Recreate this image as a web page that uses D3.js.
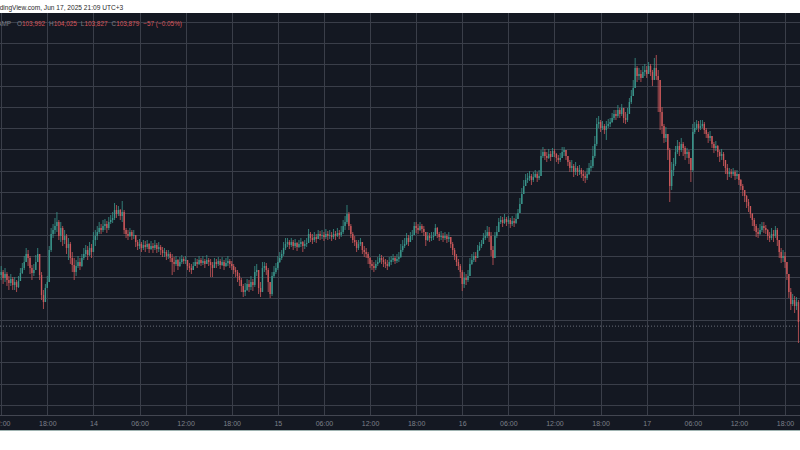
<!DOCTYPE html>
<html><head><meta charset="utf-8">
<script src="https://cdn.jsdelivr.net/npm/d3@7"></script>
<style>html,body{margin:0;padding:0;background:#fff;overflow:hidden}svg{display:block}</style>
</head><body>
<svg id="c" width="800" height="450"></svg>
<script>
// ---- data (BTCUSD 15m, times shown in UTC+3) ----
const startTime = "2025-06-13T12:00:00Z";
const intervalMinutes = 15;
const firstOpen = 104840;
const closes = [
104896,104784,104859,104746,104690,104765,104652,104708,104614,104727,
104878,104972,105084,105235,105160,104972,104878,104934,105084,105235,
104840,104464,104332,104596,104708,105310,105611,105686,105761,105836,
105573,105724,105498,105573,105348,105423,105160,105028,104896,105009,
105084,105009,105160,105235,105310,105216,105348,105272,105498,105573,
105648,105724,105686,105761,105799,105724,105836,105874,105912,106062,
105987,106062,105949,106024,105686,105611,105573,105648,105573,105592,
105460,105385,105423,105348,105404,105366,105423,105329,105385,105348,
105404,105329,105366,105310,105254,105272,105197,105235,105160,105084,
105047,105122,105009,105084,105141,105103,105122,105009,104972,104934,
105009,105084,105047,105122,105066,105103,105047,105122,105084,105028,
104972,105084,105047,105103,105028,105084,105009,105066,105103,105047,
105009,104934,104896,104821,104746,104633,104520,104558,104671,104614,
104708,104652,104896,104934,104596,104520,104972,105009,104934,104708,
104483,104821,104896,104972,105084,105160,105235,105348,105423,105460,
105404,105460,105385,105442,105366,105423,105460,105385,105423,105442,
105611,105536,105498,105554,105517,105611,105573,105592,105554,105611,
105573,105592,105554,105611,105573,105630,105592,105648,105761,105836,
105987,105761,105611,105498,105460,105348,105423,105460,105310,105272,
105235,105160,105047,105009,104972,105047,105084,105160,105122,105084,
105047,105009,105084,105122,105160,105103,105141,105178,105310,105385,
105423,105536,105460,105573,105592,105761,105724,105686,105761,105705,
105648,105498,105573,105536,105554,105573,105724,105611,105554,105573,
105536,105573,105517,105554,105423,105310,105197,105084,105009,104896,
104671,104784,104746,104821,105047,105122,105197,105160,105310,105385,
105423,105536,105573,105648,105573,105310,105160,105573,105648,105836,
105874,105818,105893,105836,105874,105799,105855,105818,105893,106006,
106175,106363,106513,106626,106664,106701,106626,106682,106739,106664,
106701,107077,107152,107077,107040,107115,107058,107171,107115,107040,
107002,107040,107152,107190,107077,106964,106852,106889,106776,106852,
106776,106814,106739,106701,106664,106739,106852,106889,107077,107303,
107679,107716,107604,107641,107566,107641,107679,107716,107792,107867,
107829,107942,107867,107980,107792,107754,107867,108092,108205,108356,
108732,108581,108619,108544,108656,108694,108619,108769,108656,108506,
108732,108581,108506,107904,107641,107416,107491,107190,106513,106814,
106927,107152,107265,107190,107303,107228,107115,107152,107040,106814,
107528,107604,107679,107604,107641,107679,107566,107491,107416,107453,
107303,107228,107265,107152,107077,107115,107002,106852,106739,106776,
106739,106776,106701,106739,106626,106513,106438,106325,106212,106137,
105987,105874,105761,105648,105611,105686,105761,105724,105686,105573,
105536,105611,105573,105686,105498,105272,105160,105197,105084,104859,
104520,104295,104370,104257,104332,103956];
const highs = [
105009,104934,104972,104896,104821,104859,104802,104802,104746,104821,
104972,105066,105197,105348,105310,105197,105028,105047,105216,105348,
105235,104896,104558,104671,104821,105385,105724,105799,105912,106024,
105874,105836,105761,105686,105611,105536,105460,105272,105160,105122,
105197,105160,105235,105348,105404,105385,105460,105423,105648,105686,
105761,105836,105799,105874,105893,105855,105930,105968,106024,106194,
106156,106137,106081,106231,106062,105724,105686,105724,105686,105686,
105573,105498,105517,105460,105498,105479,105498,105442,105479,105442,
105498,105442,105460,105404,105366,105348,105310,105310,105272,105235,
105178,105197,105141,105178,105216,105178,105197,105122,105066,105047,
105084,105160,105141,105197,105160,105197,105141,105216,105160,105141,
105084,105160,105141,105178,105141,105178,105122,105160,105197,105141,
105103,105047,104990,104934,104878,104784,104671,104690,104765,104746,
104821,104765,105009,105047,104934,104708,105084,105084,105066,104972,
104671,104896,105009,105066,105197,105272,105310,105460,105536,105536,
105498,105536,105498,105517,105460,105498,105536,105479,105498,105536,
105705,105648,105611,105648,105611,105686,105667,105686,105648,105705,
105667,105686,105648,105705,105667,105724,105686,105761,105874,105949,
106156,106024,105799,105648,105573,105498,105498,105536,105460,105385,
105348,105272,105178,105122,105084,105122,105178,105235,105216,105178,
105141,105122,105178,105197,105235,105197,105235,105272,105423,105498,
105536,105630,105592,105648,105686,105836,105836,105799,105836,105799,
105761,105648,105648,105630,105648,105648,105799,105742,105648,105667,
105630,105648,105611,105648,105554,105460,105348,105235,105141,105047,
104934,104896,104859,104934,105160,105235,105272,105272,105404,105460,
105498,105630,105686,105761,105742,105648,105385,105648,105761,105912,
105949,105930,105987,105930,105949,105912,105949,105912,105987,106081,
106288,106476,106626,106739,106758,106795,106739,106776,106814,106776,
106814,107190,107246,107209,107152,107209,107171,107228,107209,107134,
107096,107134,107246,107246,107190,107077,107002,107002,106927,106964,
106889,106908,106852,106814,106776,106852,106946,107002,107265,107453,
107792,107829,107754,107735,107679,107735,107773,107792,107886,107942,
107942,108036,107980,108055,107942,107904,107980,108168,108318,108506,
108920,108769,108732,108694,108769,108807,108769,108844,108807,108694,
108920,108976,108694,108130,107998,107679,107622,107491,107228,106964,
107040,107265,107378,107340,107416,107340,107265,107228,107190,107040,
107679,107716,107754,107735,107754,107754,107716,107604,107528,107547,
107453,107340,107359,107284,107190,107209,107152,107002,106927,106852,
106833,106852,106814,106814,106739,106645,106551,106438,106344,106269,
106137,106006,105912,105799,105724,105799,105836,105836,105780,105705,
105648,105724,105686,105761,105724,105460,105348,105310,105272,105084,
104821,104596,104483,104445,104426,104370];
const lows = [
104746,104671,104708,104633,104558,104633,104558,104558,104520,104596,
104784,104859,104934,105084,105009,104859,104746,104821,104934,105084,
104746,104370,104201,104370,104596,104708,105272,105536,105611,105648,
105498,105460,105385,105423,105235,105122,105047,104896,104746,104821,
104972,104934,104990,105122,105178,105122,105197,105160,105272,105385,
105498,105611,105611,105648,105686,105630,105686,105799,105818,105874,
105912,105949,105874,105836,105611,105536,105498,105554,105498,105517,
105366,105310,105329,105272,105310,105272,105329,105254,105310,105254,
105310,105254,105272,105216,105178,105178,105122,105141,105084,104840,
104896,105009,104934,104990,105047,105047,105047,104934,104896,104859,
104934,105009,104972,105028,105009,105028,104972,105047,105009,104802,
104802,104972,104972,105009,104953,105009,104934,104990,105009,104972,
104934,104859,104802,104708,104633,104520,104426,104445,104539,104520,
104558,104539,104614,104821,104483,104426,104520,104896,104840,104520,
104408,104445,104784,104859,104934,105066,105122,105197,105310,105366,
105329,105366,105310,105348,105291,105348,105366,105272,105329,105366,
105498,105460,105423,105460,105442,105517,105498,105517,105479,105517,
105498,105517,105479,105517,105498,105554,105517,105554,105611,105686,
105799,105686,105536,105442,105385,105272,105310,105385,105235,105178,
105160,105047,104972,104934,104896,104934,105009,105066,105047,104990,
104972,104934,104990,105028,105084,105047,105066,105084,105160,105272,
105348,105404,105385,105460,105498,105648,105630,105611,105667,105630,
105573,105385,105479,105460,105479,105498,105611,105536,105479,105498,
105460,105498,105442,105460,105348,105216,105122,105009,104934,104784,
104539,104596,104652,104708,104821,105028,105084,105084,105197,105291,
105348,105423,105498,105536,105460,105197,105028,105160,105536,105648,
105799,105742,105799,105761,105799,105724,105761,105742,105799,105893,
106024,106175,106363,106513,106570,106607,106532,106588,106664,106588,
106626,106701,107040,107002,106964,107021,106983,107077,107058,106964,
106927,106964,107040,107077,107002,106889,106776,106776,106682,106720,
106701,106720,106664,106607,106570,106626,106720,106795,106852,107040,
107265,107604,107528,107566,107491,107378,107604,107622,107698,107754,
107754,107792,107792,107829,107698,107679,107716,107867,108055,108205,
108393,108468,108506,108468,108544,108581,108544,108656,108581,108393,
108581,108506,107904,107566,107491,107322,107340,107002,106212,106438,
106701,106889,107115,107077,107152,107077,107002,107040,106927,106588,
106776,107491,107566,107528,107566,107604,107491,107416,107322,107359,
107228,107134,107171,107058,106964,107002,106889,106739,106626,106682,
106664,106701,106626,106645,106532,106438,106325,106212,106100,106024,
105912,105761,105667,105554,105536,105592,105648,105630,105611,105498,
105460,105498,105460,105536,105385,105160,105066,105084,104972,104746,
104408,104182,104257,104126,104182,103562];
const lastPrice = 103879;
const priceGridStep = 400;
const timeTickLabels = ["12:00","18:00","14","06:00","12:00","18:00","15","06:00","12:00","18:00","16","06:00","12:00","18:00","17","06:00","12:00","18:00"];
const headerText = "TradingView.com, Jun 17, 2025 21:09 UTC+3";
const legendSymbol = "BITSTAMP";
const legendItems = [["O","103,992"],["H","104,025"],["L","103,827"],["C","103,879"]];
const legendChange = "\u221257 (\u22120.05%)";

// ---- layout ----
const W = 800, H = 450;
const plotTop = 13, plotBottom = 415, darkBottom = 430;
const svg = d3.select("#c");
const t0 = new Date(startTime);
const tEnd = new Date(Date.parse(startTime) + 102 * 3600e3);
const x = d3.scaleUtc().domain([t0, tEnd]).range([1.2, 785]);
const y = d3.scaleLinear().domain([104000, 108000]).range([319.7, 106.9]);

const bg = "#141822", grid = "#3a3e49", up = "#3a968c", down = "#cc585b";
const font = "Liberation Sans, Arial, sans-serif";

svg.append("rect").attr("width", W).attr("height", H).attr("fill", "#ffffff");
svg.append("rect").attr("x", 0).attr("y", plotTop).attr("width", W).attr("height", darkBottom - plotTop).attr("fill", bg);
svg.append("line").attr("x1", 0).attr("x2", W).attr("y1", darkBottom + 0.5).attr("y2", darkBottom + 0.5).attr("stroke", "#9fb3b1").attr("stroke-width", 1);

// header
svg.append("text").attr("x", -10).attr("y", 9.5).attr("font-family", font)
  .attr("font-size", 6.6).attr("fill", "#2a2a2a").text(headerText);

const defs = svg.append("defs");
defs.append("clipPath").attr("id", "plot").append("rect").attr("x", 0).attr("y", plotTop).attr("width", W).attr("height", plotBottom - plotTop);

// grid
const tickTimes = d3.utcHour.every(6).range(t0, new Date(+tEnd + 1));
const gGrid = svg.append("g").attr("clip-path", "url(#plot)");
gGrid.selectAll("line.v").data(tickTimes).join("line")
  .attr("x1", d => Math.round(x(d)) + 0.5).attr("x2", d => Math.round(x(d)) + 0.5)
  .attr("y1", plotTop).attr("y2", plotBottom).attr("stroke", grid).attr("stroke-width", 1);
const priceTicks = d3.range(Math.ceil(y.invert(plotBottom) / priceGridStep) * priceGridStep, y.invert(plotTop), priceGridStep);
gGrid.selectAll("line.h").data(priceTicks).join("line")
  .attr("x1", 0).attr("x2", W)
  .attr("y1", d => Math.round(y(d)) + 0.5).attr("y2", d => Math.round(y(d)) + 0.5)
  .attr("stroke", grid).attr("stroke-width", 1);

// time axis
svg.append("line").attr("x1", 0).attr("x2", W).attr("y1", plotBottom + 0.5).attr("y2", plotBottom + 0.5).attr("stroke", "#434651");
const axis = d3.axisBottom(x).tickValues(tickTimes).tickSize(0).tickPadding(0)
  .tickFormat((d, i) => timeTickLabels[i]);
const gAxis = svg.append("g").attr("transform", `translate(0,${plotBottom})`).call(axis);
gAxis.select(".domain").remove();
gAxis.selectAll("text").attr("y", 10.5).attr("dy", 0).attr("fill", "#7d808a")
  .attr("font-family", font).attr("font-size", 7);

// last price dotted line
svg.append("line").attr("x1", 0).attr("x2", W).attr("y1", y(lastPrice)).attr("y2", y(lastPrice))
  .attr("stroke", "#6a6d78").attr("stroke-width", 1).attr("stroke-dasharray", "1,2");

// candles
const candles = closes.map((c, i) => {
  const o = i === 0 ? firstOpen : closes[i - 1];
  return { t: new Date(+t0 + i * intervalMinutes * 60e3), o, c,
    h: Math.max(highs[i], o, c), l: Math.min(lows[i], o, c) };
});
const gC = svg.append("g").attr("clip-path", "url(#plot)");
gC.selectAll("line.w").data(candles).join("line")
  .attr("x1", d => x(d.t)).attr("x2", d => x(d.t))
  .attr("y1", d => y(d.h)).attr("y2", d => y(d.l))
  .attr("stroke", d => d.c >= d.o ? up : down).attr("stroke-width", 0.8);
gC.selectAll("rect.b").data(candles).join("rect")
  .attr("x", d => x(d.t) - 0.7).attr("width", 1.4)
  .attr("y", d => y(Math.max(d.o, d.c)))
  .attr("height", d => Math.max(0.8, Math.abs(y(d.o) - y(d.c))))
  .attr("fill", d => d.c >= d.o ? up : down);

// legend
svg.append("text").attr("x", 11).attr("y", 25.5).attr("text-anchor", "end")
  .attr("font-family", font).attr("font-size", 6.4).attr("fill", "#7d808a").text(legendSymbol);
const lg = svg.append("text").attr("x", 13).attr("y", 25.5)
  .attr("font-family", font).attr("font-size", 6.4);
legendItems.forEach(([k, v], i) => {
  lg.append("tspan").attr("dx", 4).attr("fill", "#7d808a").text(k);
  lg.append("tspan").attr("fill", "#d9555a").text(v);
});
lg.append("tspan").attr("dx", 4).attr("fill", "#d9555a").text(legendChange);
</script>
</body></html>
